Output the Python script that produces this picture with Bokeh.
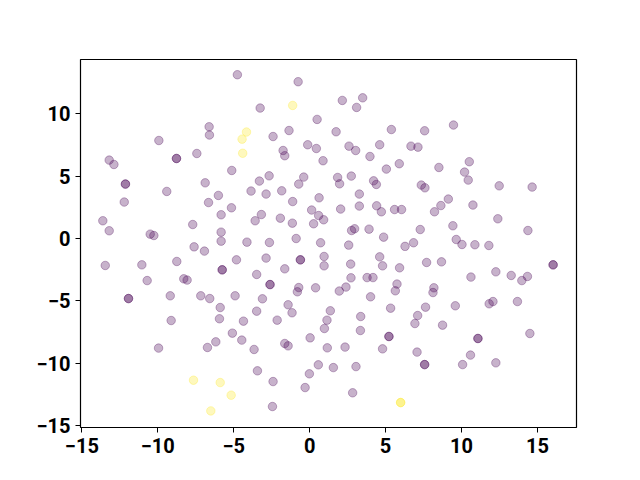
from bokeh.plotting import figure
from bokeh.models import FixedTicker, Range1d
from bokeh.embed import file_html
from bokeh.resources import INLINE

# purple points (class 0); repeated entries are overlapping duplicates
x_purple = [-4.76, -6.62, -6.60, -9.93, -13.20, -12.89, -8.77, -8.77, -7.43, -5.13,
            -12.13, -12.13, -6.88, -9.41, -6.01, -6.66, -12.21, -5.15, -5.83, -13.62,
            -13.20, -7.70, -10.50, -10.26, -5.83, -5.83, -7.61, -4.13,
            -0.76, -3.26, 2.15, 3.49, 3.09, 0.49, -1.36, -2.41, 1.74, 5.38,
            -1.75, -1.64, -0.13, 0.44, 0.88, 2.59, 3.03, 4.61, 6.67, 7.13,
            3.97, 5.05, 5.90, -2.67, -3.31, -3.86, -2.87, -1.84, -0.39, -0.72,
            1.84, 1.97, 2.74, 4.21, 4.39, 3.27, -1.12, 0.62, 0.13, 0.59,
            0.92, 0.26, 2.04, 3.27, 4.41, 4.72, 5.59, 6.05, -3.18, -3.59,
            -1.93, -1.14, 2.76, 2.96, 3.91, 4.87, -2.65, -0.89, 0.72, 2.57, 6.28,
            9.47, 7.57, 8.51, 10.51, 10.20, 10.44, 7.35, 7.59, 12.48, 14.65,
            9.13, 8.64, 8.22, 10.75, 12.39, 14.37, 7.28, 9.43, 6.84, 9.65,
            10.03, 10.88, 11.80,
            -6.93, -13.46, -11.05, -8.75, -4.82, -5.76, -5.76, -10.70, -8.29, -8.07,
            -11.93, -11.93, -9.18, -7.17, -6.58, -4.91, -5.89, -9.12, -5.94, -4.36,
            -5.09, -4.47, -6.18, -6.73, -9.95,
            -2.87, -0.61, -0.61, 0.95, 0.95, -1.64, 2.70, 4.61, 4.80, 5.92,
            -3.49, -2.61, -2.61, -0.72, -0.81, 0.39, 2.72, 3.78, 4.17, 2.39,
            1.95, 5.75, 5.64, 4.01, -3.11, -1.42, -1.16, -3.49, -2.14, 1.36,
            1.14, 0.97, 3.36, 3.34, 5.33, -3.66, -1.64, -1.42, 0.03, 1.16,
            2.33, 5.22, 5.22, 4.80, -3.44, -2.41, 0.57, -0.02, -0.30, 1.56,
            3.05, 2.83, -2.45,
            7.70, 8.68, 16.03, 16.03, 12.26, 10.62, 13.27, 14.34, 13.97, 8.18,
            8.12, 7.63, 7.11, 6.93, 8.75, 9.59, 11.82, 12.07, 13.68, 14.50,
            11.08, 11.08, 7.07, 7.57, 7.57, 10.59, 10.07, 12.26]
y_purple = [13.12, 8.95, 8.29, 7.85, 6.28, 5.93, 6.41, 6.41, 6.81, 5.45,
            4.36, 4.36, 4.46, 3.77, 3.45, 2.88, 2.92, 2.46, 1.90, 1.42,
            0.62, 1.12, 0.35, 0.24, 0.51, -0.21, -0.67, -0.29,
            12.56, 10.45, 11.06, 11.27, 10.50, 9.54, 8.65, 8.17, 8.55, 8.73,
            7.05, 6.63, 7.51, 7.21, 6.23, 7.40, 7.05, 7.51, 7.40, 7.32,
            6.57, 5.56, 5.99, 5.02, 4.60, 3.80, 3.56, 3.82, 4.92, 4.36,
            4.89, 4.38, 5.00, 4.62, 4.33, 3.56, 2.96, 3.26, 2.28, 1.84,
            1.50, 1.18, 2.36, 2.60, 2.62, 2.14, 2.32, 2.32, 1.92, 1.42,
            1.63, 1.23, 0.64, 0.78, 0.75, 0.11, -0.32, 0.00, -0.34, -0.53, -0.63,
            9.09, 8.63, 5.69, 6.15, 5.32, 4.68, 4.28, 4.06, 4.22, 4.12,
            3.16, 2.64, 2.14, 2.68, 1.58, 0.64, 0.72, 1.02, -0.34, -0.08,
            -0.48, -0.50, -0.56,
            -1.01, -2.16, -2.11, -1.84, -1.71, -2.51, -2.51, -3.37, -3.23, -3.33,
            -4.81, -4.81, -4.59, -4.59, -4.81, -4.59, -5.53, -6.57, -6.43, -6.62,
            -7.58, -8.14, -8.28, -8.73, -8.78,
            -1.57, -1.71, -1.71, -1.44, -2.19, -2.43, -2.05, -1.47, -2.19, -2.35,
            -2.88, -3.69, -3.69, -3.93, -4.27, -3.95, -3.15, -3.13, -3.13, -3.89,
            -4.21, -3.65, -4.19, -4.67, -4.83, -5.31, -5.95, -5.82, -6.54, -5.79,
            -6.54, -7.21, -6.25, -7.37, -5.58, -8.89, -8.41, -8.60, -7.96, -8.76,
            -8.70, -7.85, -7.85, -8.84, -10.60, -11.46, -10.12, -10.84, -11.94, -10.34,
            -10.26, -12.36, -13.46,
            -1.92, -1.87, -2.11, -2.11, -2.67, -3.09, -2.96, -3.04, -3.37, -3.95,
            -4.33, -5.50, -6.17, -6.81, -6.94, -5.39, -5.23, -5.05, -5.05, -7.61,
            -8.01, -8.01, -9.10, -10.10, -10.10, -9.34, -10.10, -9.96]

# yellow points (class 1)
x_yellow = [-4.16, -4.45, -4.41, -1.12, -7.65, -5.89, -5.17, -6.51, 5.99, 5.99]
y_yellow = [8.53, 7.96, 6.83, 10.66, -11.35, -11.54, -12.55, -13.81, -13.14, -13.14]

x_ticks = [-15, -10, -5, 0, 5, 10, 15]
y_ticks = [-15, -10, -5, 0, 5, 10]
x_tick_labels = ["\u221215", "\u221210", "\u22125", "0", "5", "10", "15"]
y_tick_labels = ["\u221215", "\u221210", "\u22125", "0", "5", "10"]

PURPLE = "#440154"
YELLOW = "#fde725"

p = figure(width=640, height=480, output_backend="svg", toolbar_location=None,
           x_range=Range1d(-15.09, 17.57), y_range=Range1d(-15.14, 14.34),
           min_border_left=80, min_border_right=64, min_border_top=59,
           min_border_bottom=53)

p.scatter(x_purple, y_purple, size=8.5, fill_color=PURPLE, line_color=PURPLE,
          fill_alpha=0.3, line_alpha=0.3, line_width=1)
p.scatter(x_yellow, y_yellow, size=8.5, fill_color=YELLOW, line_color=YELLOW,
          fill_alpha=0.3, line_alpha=0.3, line_width=1)

p.xgrid.visible = False
p.ygrid.visible = False
p.outline_line_color = "black"
p.outline_line_width = 1.2
p.outline_line_alpha = 1.0

p.xaxis.ticker = FixedTicker(ticks=x_ticks)
p.yaxis.ticker = FixedTicker(ticks=y_ticks)
p.xaxis.major_label_overrides = dict(zip(x_ticks, x_tick_labels))
p.yaxis.major_label_overrides = dict(zip(y_ticks, y_tick_labels))

for ax in (p.xaxis, p.yaxis):
    ax.axis_line_color = None
    ax.major_tick_line_color = "black"
    ax.major_tick_line_width = 1
    ax.major_tick_out = 5
    ax.major_tick_in = 0
    ax.minor_tick_line_color = None
    ax.major_label_text_font = "Roboto"
    ax.major_label_text_font_style = "bold"
    ax.major_label_text_font_size = "20px"
    ax.major_label_text_color = "black"
    ax.major_label_standoff = 5

open("out.html", "w").write(file_html(p, INLINE))
